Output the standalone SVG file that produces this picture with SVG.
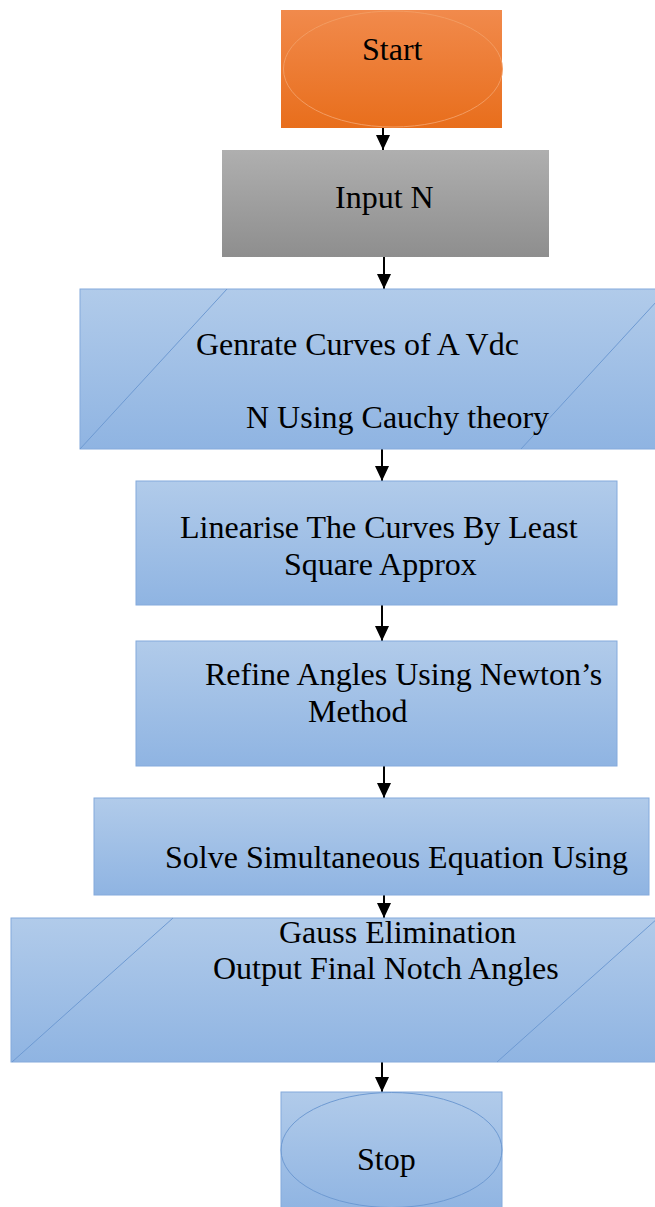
<svg xmlns="http://www.w3.org/2000/svg" width="655" height="1207" viewBox="0 0 655 1207">
<defs>
<linearGradient id="gBlue" x1="0" y1="0" x2="0" y2="1">
<stop offset="0" stop-color="#B1CBEA"/>
<stop offset="1" stop-color="#8FB4E2"/>
</linearGradient>
<linearGradient id="gOrange" x1="0" y1="0" x2="0" y2="1">
<stop offset="0" stop-color="#F18A4C"/>
<stop offset="1" stop-color="#E86E1C"/>
</linearGradient>
<linearGradient id="gGray" x1="0" y1="0" x2="0" y2="1">
<stop offset="0" stop-color="#AFAFAF"/>
<stop offset="1" stop-color="#8E8E8E"/>
</linearGradient>
<marker id="arrow" markerUnits="userSpaceOnUse" markerWidth="16" markerHeight="18" refX="15" refY="7" orient="auto">
<path d="M0,0 L15,7 L0,14 Z" fill="#000"/>
</marker>
<clipPath id="page"><rect x="0" y="0" width="655" height="1207"/></clipPath>
</defs>
<style>
.lbl{font-family:"Liberation Serif","Times New Roman",serif;font-size:32px;fill:#000}
.box{fill:url(#gBlue);stroke:#84AADC;stroke-width:1}
.edge{stroke:#6E9AD2;stroke-width:1;fill:none}
.conn{stroke:#000;stroke-width:2;fill:none;marker-end:url(#arrow)}
</style>
<g id="connectors">
<line class="conn" x1="383" y1="128" x2="383" y2="150"/>
<line class="conn" x1="384" y1="257" x2="384" y2="289"/>
<line class="conn" x1="382" y1="449" x2="382" y2="481"/>
<line class="conn" x1="382" y1="605" x2="382" y2="641"/>
<line class="conn" x1="384" y1="766" x2="384" y2="798"/>
<line class="conn" x1="384" y1="895" x2="384" y2="918"/>
<line class="conn" x1="382" y1="1062" x2="382" y2="1092"/>
</g>
<g id="start">
<rect x="281" y="10" width="221" height="118" fill="url(#gOrange)"/>
<ellipse cx="393" cy="69" rx="109.5" ry="58" fill="none" stroke="#F39C62" stroke-width="1"/>
<text class="lbl" x="362" y="60">Start</text>
</g>
<g id="input">
<rect x="222" y="150" width="327" height="107" fill="url(#gGray)"/>
<text class="lbl" x="335" y="208">Input N</text>
</g>
<g id="generate" clip-path="url(#page)">
<rect class="box" x="80" y="289" width="590" height="160"/>
<line class="edge" x1="227" y1="289" x2="80" y2="449"/>
<line class="edge" x1="668" y1="289" x2="521" y2="449"/>
<text class="lbl" x="196" y="355">Genrate Curves of A Vdc</text>
<text class="lbl" x="246" y="428">N Using Cauchy theory</text>
</g>
<g id="linearise">
<rect class="box" x="136" y="481" width="481" height="124"/>
<text class="lbl" x="180" y="538">Linearise The Curves By Least</text>
<text class="lbl" x="284" y="575">Square Approx</text>
</g>
<g id="refine">
<rect class="box" x="136" y="641" width="481" height="125"/>
<text class="lbl" x="205" y="685">Refine Angles Using Newton’s</text>
<text class="lbl" x="308" y="722">Method</text>
</g>
<g id="solve">
<rect class="box" x="94" y="798" width="555" height="97"/>
<text class="lbl" x="165" y="868">Solve Simultaneous Equation Using</text>
</g>
<g id="output" clip-path="url(#page)">
<rect class="box" x="11" y="918" width="660" height="144"/>
<line class="edge" x1="173" y1="918" x2="12" y2="1062"/>
<line class="edge" x1="658" y1="918" x2="497" y2="1062"/>
<text class="lbl" x="279" y="943">Gauss Elimination</text>
<text class="lbl" x="213" y="979">Output Final Notch Angles</text>
</g>
<g id="stop" clip-path="url(#page)">
<rect class="box" x="281" y="1092" width="221" height="120" stroke="none"/>
<ellipse cx="391.5" cy="1150" rx="110.5" ry="57.5" fill="none" stroke="#6E9AD2" stroke-width="1"/>
<text class="lbl" x="357" y="1170">Stop</text>
</g>
</svg>
